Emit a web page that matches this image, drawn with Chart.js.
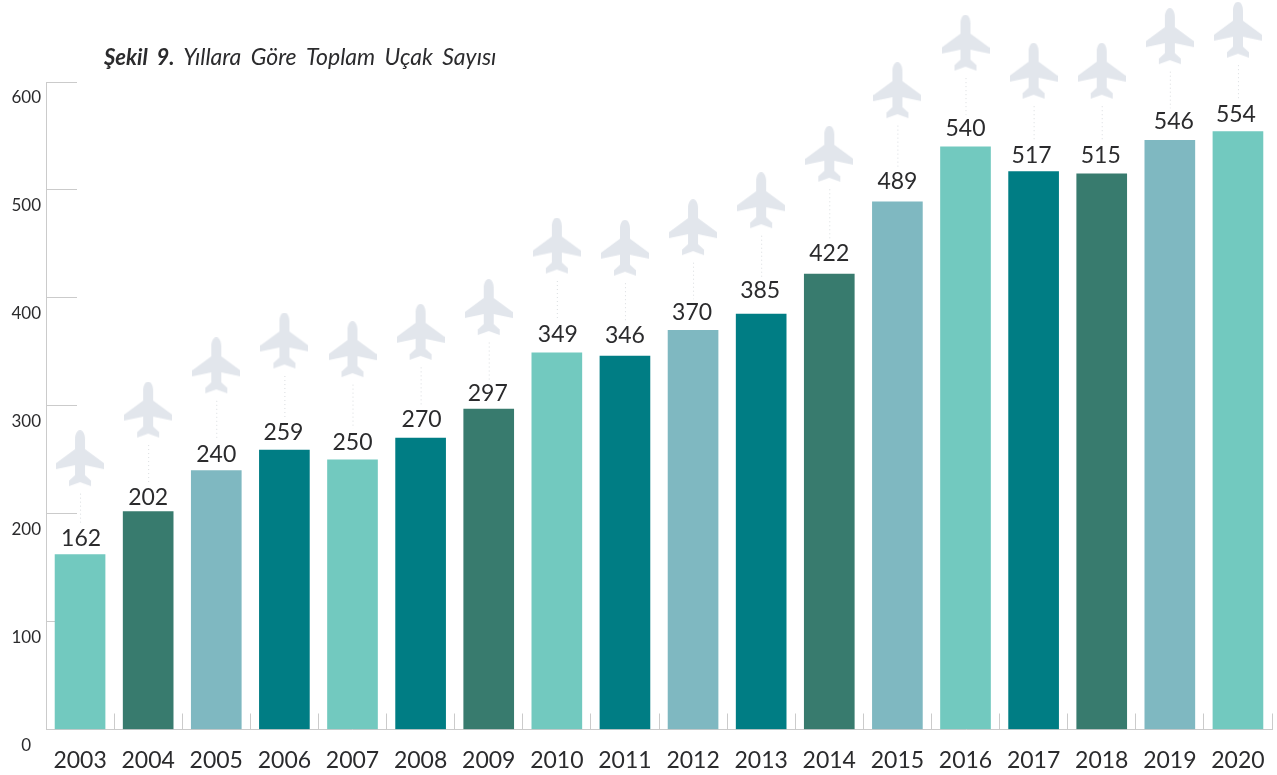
<!DOCTYPE html>
<html>
<head>
<meta charset="utf-8">
<script src="https://cdn.jsdelivr.net/npm/chart.js@4"></script>
<style>
  body { margin: 0; background: #fff; }
</style>
</head>
<body>
<canvas id="myChart" width="1277" height="775"></canvas>
<script>
const years = ['2003','2004','2005','2006','2007','2008','2009','2010','2011','2012','2013','2014','2015','2016','2017','2018','2019','2020'];
const planes = [162,202,240,259,250,270,297,349,346,370,385,422,489,540,517,515,546,554];
// plane centres in axis units
const planeLevels = [251,296,337,360,352,368,391,448,446,465,490,533,592,636,610,610,642,648];
const yTicks = [0,100,200,300,400,500,600];

const mint = '#72c9bf', green = '#387b6e', blue = '#7fb8c1', teal = '#007d84';
const barColors = [mint,green,blue,teal,mint,teal,green,mint,teal,blue,teal,green,blue,mint,teal,green,blue,mint];

// the numbers were placed by hand in the original, so each one gets a small nudge
const labelNudgeX = [0,-1,-1,-2,-1,0,-2,0,-1,-2,-2,-1,-1,-1,-3,-2,3,-3];
const labelNudgeY = [-1,1,-1,-2,-2,-3,0,-3,-5,-2,-8,-5,-5,-3,-1,-3,-3,-2];

const axisGrey = '#cbcbcb';
const textColor = '#2b2b2d';
const fontName = 'Lato, sans-serif';

function makePlane() {
    const c = document.createElement('canvas');
    c.width = 48;
    c.height = 57;
    const g = c.getContext('2d');
    g.fillStyle = '#e2e6ec';
    g.fill(new Path2D('M24 0C27 0 29 4 29 9L29 19L48 33L48 39L29 35L29 45L35 50.5L35 56L24 52L13 56L13 50.5L19 45L19 35L0 39L0 33L19 19L19 9C19 4 21 0 24 0Z'));
    return c;
}
const planeIcon = makePlane();

const extras = {
    id: 'extras',
    afterDatasetsDraw(chart) {
        const ctx = chart.ctx;
        const bars = chart.getDatasetMeta(0).data;
        const yScale = chart.scales.y;

        ctx.save();
        bars.forEach((bar, i) => {
            const py = yScale.getPixelForValue(planeLevels[i]);
            ctx.drawImage(planeIcon, bar.x - 24, py - 28.5);

            // dotted line between the plane and its number
            ctx.strokeStyle = '#d9dcdf';
            ctx.setLineDash([1, 3]);
            ctx.beginPath();
            ctx.moveTo(bar.x + 0.5, py + 35);
            ctx.lineTo(bar.x + 0.5, bar.y - 29 + labelNudgeY[i]);
            ctx.stroke();
            ctx.setLineDash([]);
        });

        // values above the bars
        ctx.fillStyle = textColor;
        ctx.font = '23px ' + fontName;
        ctx.textAlign = 'center';
        ctx.textBaseline = 'alphabetic';
        bars.forEach((bar, i) => {
            ctx.fillText(planes[i], bar.x + 1 + labelNudgeX[i], bar.y - 8 + labelNudgeY[i]);
        });

        // title, bold part and italic part
        ctx.textAlign = 'left';
        ctx.wordSpacing = '4px';
        ctx.font = 'italic bold 22px ' + fontName;
        const head = 'Şekil 9.';
        ctx.fillText(head, 104, 65);
        const w = ctx.measureText(head + ' ').width;
        ctx.font = 'italic 23px ' + fontName;
        ctx.fillText('Yıllara Göre Toplam Uçak Sayısı', 104 + w, 65);
        ctx.restore();
    }
};

const config = {
    type: 'bar',
    data: {
        labels: years,
        datasets: [{
            data: planes,
            backgroundColor: barColors,
            barThickness: 50
        }]
    },
    options: {
        responsive: false,
        animation: false,
        layout: { padding: { top: 82, right: 5 } },
        plugins: {
            legend: { display: false },
            tooltip: { enabled: false }
        },
        scales: {
            x: {
                offset: true,
                afterFit: s => {
                    s.height = 45.5;
                    s.paddingLeft = 0;
                    s.paddingRight = 0;
                },
                border: { color: axisGrey },
                grid: { offset: true, drawOnChartArea: false, tickLength: -16, tickColor: axisGrey },
                ticks: {
                    autoSkip: false,
                    maxRotation: 0,
                    padding: 33,
                    color: textColor,
                    font: { family: fontName, size: 23 }
                }
            },
            y: {
                min: 0,
                max: 600,
                afterBuildTicks: s => { s.ticks = yTicks.map(v => ({ value: v })); },
                afterFit: s => {
                    s.width = 46;
                    s.paddingTop = 0;
                    s.paddingBottom = 0;
                },
                border: { color: axisGrey },
                grid: { drawOnChartArea: false, tickLength: -31, tickColor: axisGrey },
                ticks: {
                    // labels sit under their tick mark in the original
                    callback: v => ['', String(v)],
                    padding: 36,
                    crossAlign: 'center',
                    color: textColor,
                    font: { family: fontName, size: 17, lineHeight: '32px' }
                }
            }
        }
    },
    plugins: [extras]
};

var newmychart = new Chart(document.getElementById('myChart'), config);
</script>
</body>
</html>
